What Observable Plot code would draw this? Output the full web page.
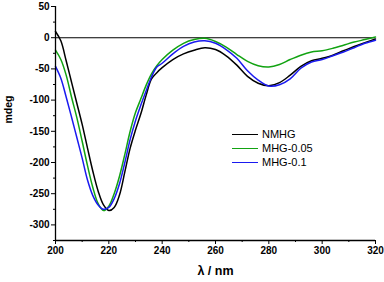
<!DOCTYPE html>
<html>
<head>
<meta charset="utf-8">
<script src="https://cdn.jsdelivr.net/npm/d3@7"></script>
<script src="https://cdn.jsdelivr.net/npm/@observablehq/plot@0.6"></script>
<style>
  html, body { margin: 0; padding: 0; background: #fff; }
  #wrap { position: relative; width: 384px; height: 282px; font-family: "Liberation Sans", Arial, sans-serif; }
  #legend { position: absolute; left: 232px; top: 127px; font-size: 11px; line-height: 14px; color: #000; }
  .row { display: flex; align-items: center; height: 14px; }
  .sw { width: 26px; height: 0; border-top: 1.6px solid; margin-right: 4px; }
</style>
</head>
<body>
<div id="wrap"><div id="legend"></div></div>
<script>
const wavelength = [200,202,204,206,208,210,212,214,216,218,220,222,224,226,228,230,232,234,236,238,240,
  244,248,252,256,260,264,268,272,276,280,284,288,292,296,300,304,308,312,316,320];
const nmhg   = [10,-5,-37,-71,-105,-139,-177,-214,-246,-268,-277,-272,-252,-215,-177,-148,-122,-92,-66,-56,-48,
  -35,-26,-20,-16,-19,-29,-44,-62,-73,-77,-72,-60,-46,-37,-33,-28,-21,-14,-8,-2];
const mhg005 = [-20,-35,-60,-95,-128,-166,-205,-240,-266,-277,-270,-250,-222,-187,-150,-120,-98,-76,-58,-45,-35,
  -20,-9,-3,-1,-6,-15,-27,-38,-45,-47,-43,-35,-28,-23,-21,-17,-12,-7,-3,1];
const mhg01  = [-46,-65,-95,-127,-160,-193,-228,-253,-268,-275,-272,-258,-234,-200,-163,-133,-108,-85,-63,-47,-41,
  -26,-14,-7,-5,-9,-19,-33,-53,-68,-77.5,-75.5,-66,-49,-39,-35,-29,-23,-16,-9,-4];
const seriesNames  = ["NMHG", "MHG-0.05", "MHG-0.1"];
const seriesColors = ["#000000", "#12a312", "#1a1af0"];
const xTicks = [200,220,240,260,280,300,320];
const xMinor = [210,230,250,270,290,310];
const yTicks = [50,0,-50,-100,-150,-200,-250,-300];
const yMinor = [25,-25,-75,-125,-175,-225,-275,-325];
const xDomain = [200, 320];
const yDomain = [-325, 50];

const seriesValues = [nmhg, mhg005, mhg01];
const rows = seriesNames.flatMap((s, i) => wavelength.map((w, j) => ({w, v: seriesValues[i][j], s})));

const chart = Plot.plot({
  width: 384, height: 282,
  marginLeft: 55, marginRight: 9, marginTop: 6, marginBottom: 42,
  style: {fontFamily: "'Liberation Sans', Arial, sans-serif", fontSize: "10px", fontWeight: "bold", background: "white", color: "black"},
  x: {domain: xDomain},
  y: {domain: yDomain},
  color: {domain: seriesNames, range: seriesColors},
  marks: [
    Plot.ruleY([0], {stroke: "#000", strokeWidth: 1.1}),
    Plot.line(rows, {x: "w", y: "v", z: "s", stroke: "s", strokeWidth: 1.5, curve: "catmull-rom"}),
    Plot.ruleX([xDomain[0]], {stroke: "#000", strokeWidth: 1.3}),
    Plot.ruleY([yDomain[0]], {stroke: "#000", strokeWidth: 1.3}),
    Plot.axisX({ticks: xTicks, tickSize: 4, tickPadding: 2, tickFormat: d => String(d), label: null, fontWeight: "bold"}),
    Plot.axisX({ticks: xMinor, tickSize: 2, tickFormat: null, text: null, label: null}),
    Plot.axisY({ticks: yTicks, tickSize: 4, tickPadding: 2, tickFormat: d => String(d), label: null, fontWeight: "bold"}),
    Plot.axisY({ticks: yMinor, tickSize: 2, text: null, label: null}),
    Plot.text(["λ / nm"], {text: d => d, frameAnchor: "bottom", dy: 34, fontSize: 12.5, fontWeight: "bold"}),
    Plot.text(["mdeg"], {text: d => d, frameAnchor: "left", dx: -47, rotate: -90, fontSize: 10.5, fontWeight: "bold"})
  ]
});
document.getElementById("wrap").prepend(chart);

const legend = document.getElementById("legend");
seriesNames.forEach((s, i) => {
  const row = document.createElement("div");
  row.className = "row";
  const sw = document.createElement("div");
  sw.className = "sw";
  sw.style.borderTopColor = seriesColors[i];
  const t = document.createElement("span");
  t.textContent = s;
  row.append(sw, t);
  legend.append(row);
});
</script>
</body>
</html>
